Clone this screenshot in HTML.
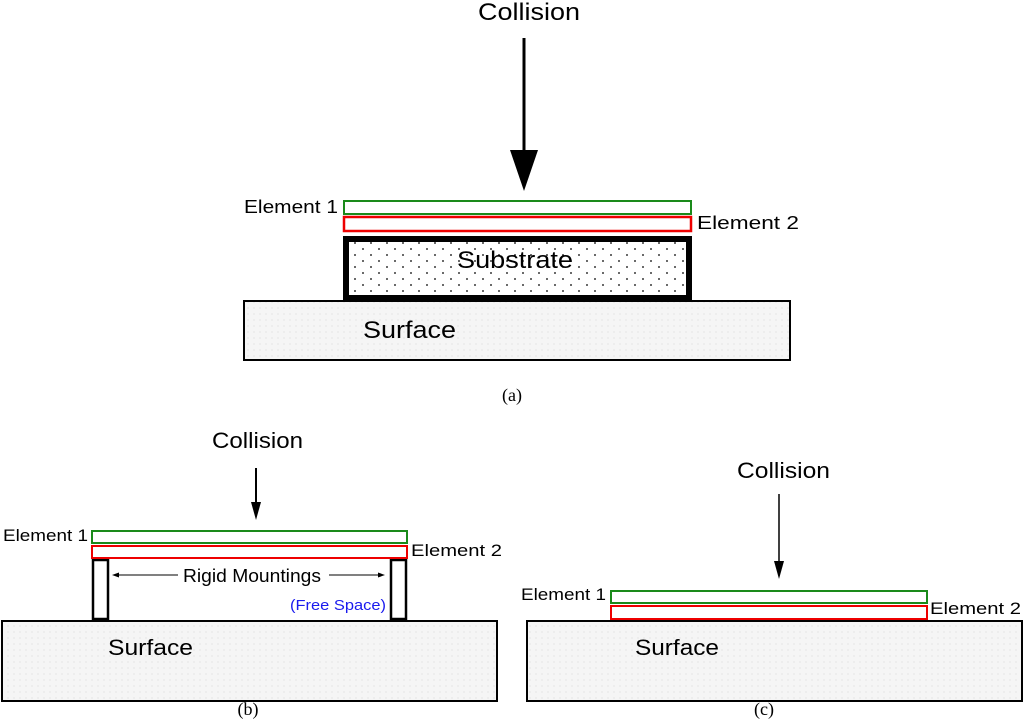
<!DOCTYPE html>
<html><head><style>body{margin:0;background:#fff}svg{display:block}text{font-family:"Liberation Sans",sans-serif;fill:#000}</style></head><body>
<svg width="1024" height="721" viewBox="0 0 1024 721" xmlns="http://www.w3.org/2000/svg">
<defs>
<pattern id="dots" width="16" height="12" patternUnits="userSpaceOnUse"><rect width="16" height="12" fill="#fff"/><circle cx="3" cy="3" r="0.9" fill="#000"/><circle cx="11" cy="9" r="0.9" fill="#000"/></pattern>
<pattern id="fine" width="6" height="6" patternUnits="userSpaceOnUse"><rect width="6" height="6" fill="#f5f5f5"/><circle cx="2" cy="2" r="0.5" fill="#ccc"/></pattern>
</defs>
<!-- (a) -->
<text x="478" y="20" font-size="24" textLength="102" lengthAdjust="spacingAndGlyphs">Collision</text>
<line x1="524" y1="38" x2="524" y2="155" stroke="#000" stroke-width="3"/>
<polygon points="510,150 538,150 524,191" fill="#000"/>
<rect x="244" y="301" width="546" height="59" fill="url(#fine)" stroke="#000" stroke-width="2"/>
<rect x="346" y="239" width="343" height="59" fill="url(#dots)" stroke="#000" stroke-width="6"/>
<rect x="344" y="201" width="347" height="13" fill="#fff" stroke="#1a8a1a" stroke-width="2"/>
<rect x="344" y="217" width="347" height="14" fill="#fff" stroke="#e00" stroke-width="2.5"/>
<text x="244" y="213" font-size="18" textLength="94" lengthAdjust="spacingAndGlyphs">Element 1</text>
<text x="697" y="229" font-size="18" textLength="102" lengthAdjust="spacingAndGlyphs">Element  2</text>
<text x="457" y="268" font-size="24" textLength="116" lengthAdjust="spacingAndGlyphs">Substrate</text>
<text x="363" y="338" font-size="24" textLength="93" lengthAdjust="spacingAndGlyphs">Surface</text>
<text x="512" y="401" font-size="18" text-anchor="middle" style="font-family:'Liberation Serif',serif">(a)</text>
<!-- (b) -->
<text x="212" y="448" font-size="22" textLength="91" lengthAdjust="spacingAndGlyphs">Collision</text>
<line x1="256" y1="468" x2="256" y2="505" stroke="#000" stroke-width="2"/>
<polygon points="251,502 261,502 256,520" fill="#000"/>
<rect x="2" y="621" width="495" height="80" fill="url(#fine)" stroke="#000" stroke-width="2"/>
<rect x="93" y="560" width="15" height="59" fill="#fff" stroke="#000" stroke-width="2.5"/>
<rect x="391" y="560" width="15" height="59" fill="#fff" stroke="#000" stroke-width="2.5"/>
<rect x="92" y="531" width="315" height="12" fill="#fff" stroke="#1a8a1a" stroke-width="2"/>
<rect x="92" y="546" width="315" height="12" fill="#fff" stroke="#e00" stroke-width="2"/>
<text x="3" y="541" font-size="17" textLength="85" lengthAdjust="spacingAndGlyphs">Element 1</text>
<text x="411" y="556" font-size="17" textLength="91" lengthAdjust="spacingAndGlyphs">Element  2</text>
<text x="183" y="582" font-size="18" textLength="138" lengthAdjust="spacingAndGlyphs">Rigid Mountings</text>
<line x1="115" y1="575" x2="178" y2="575" stroke="#000" stroke-width="1"/>
<polygon points="112,575 119,572.5 119,577.5" fill="#000"/>
<line x1="329" y1="575" x2="380" y2="575" stroke="#000" stroke-width="1"/>
<polygon points="385,575 378,572.5 378,577.5" fill="#000"/>
<text x="290" y="610" font-size="15" textLength="96" lengthAdjust="spacingAndGlyphs" style="fill:#1a1aee">(Free Space)</text>
<text x="108" y="655" font-size="22" textLength="85" lengthAdjust="spacingAndGlyphs">Surface</text>
<text x="248" y="715" font-size="18" text-anchor="middle" style="font-family:'Liberation Serif',serif">(b)</text>
<!-- (c) -->
<text x="737" y="478" font-size="22" textLength="93" lengthAdjust="spacingAndGlyphs">Collision</text>
<line x1="779" y1="494" x2="779" y2="565" stroke="#000" stroke-width="1.5"/>
<polygon points="774,561 784,561 779,579" fill="#000"/>
<rect x="527" y="621" width="495" height="80" fill="url(#fine)" stroke="#000" stroke-width="2"/>
<rect x="611" y="591" width="316" height="12" fill="#fff" stroke="#1a8a1a" stroke-width="2"/>
<rect x="611" y="606" width="316" height="13" fill="#fff" stroke="#e00" stroke-width="2"/>
<text x="521" y="600" font-size="17" textLength="85" lengthAdjust="spacingAndGlyphs">Element 1</text>
<text x="930" y="614" font-size="17" textLength="91" lengthAdjust="spacingAndGlyphs">Element  2</text>
<text x="635" y="655" font-size="22" textLength="84" lengthAdjust="spacingAndGlyphs">Surface</text>
<text x="764" y="715" font-size="18" text-anchor="middle" style="font-family:'Liberation Serif',serif">(c)</text>
</svg>
</body></html>
